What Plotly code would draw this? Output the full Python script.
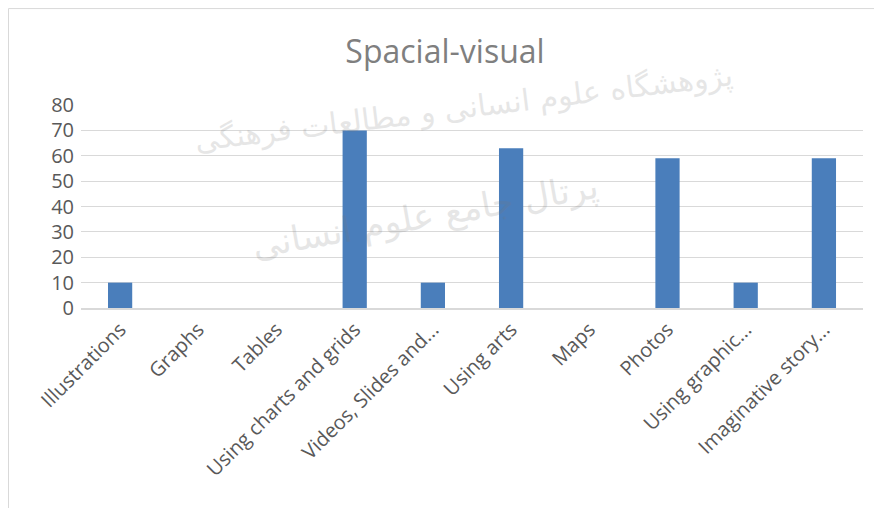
import plotly.graph_objects as go

categories = ["Illustrations", "Graphs", "Tables", "Using charts and grids",
              "Videos, Slides and...", "Using arts", "Maps", "Photos",
              "Using graphic...", "Imaginative story..."]
values = [10, 0, 0, 70, 10, 63, 0, 59, 10, 59]
y_ticks = [0, 10, 20, 30, 40, 50, 60, 70, 80]
watermark_lines = ["پژوهشگاه علوم انسانی و مطالعات فرهنگی", "پرتال جامع علوم انسانی"]

fig = go.Figure()
fig.add_trace(go.Bar(x=categories, y=values, marker_color="#4a7ebb",
                     marker_line_width=0))

font_family = "'Open Sans', 'Noto Sans', sans-serif"
fig.update_layout(
    width=874, height=500,
    margin=dict(l=73, r=19, t=97, b=200),
    paper_bgcolor="white", plot_bgcolor="white",
    bargap=0.69,
    showlegend=False,
    title=dict(text="Spacial-visual", x=0.5, xanchor="center", y=0.912, yanchor="middle",
               font=dict(family=font_family, size=32, color="#7f7f7f")),
    font=dict(family=font_family, color="#595959", size=19),
    xaxis=dict(tickangle=-45, showgrid=False, showline=True, linecolor="#d9d9d9",
               linewidth=2, tickfont=dict(size=20, color="#595959"), ticks="",
               automargin=False),
    yaxis=dict(range=[0, 80], tickvals=y_ticks, showgrid=True, gridcolor="#d9d9d9",
               gridwidth=1, zeroline=False, showline=False, ticks="",
               tickfont=dict(size=20, color="#595959"), ticklabelstandoff=6,
               automargin=False),
)

# faint watermark text
fig.add_annotation(text=watermark_lines[0], xref="paper", yref="paper", x=0.49, y=0.985,
                   xanchor="center", yanchor="middle",
                   showarrow=False, textangle=-7, opacity=0.18,
                   font=dict(family="DejaVu Sans", size=30, color="#777777"))
fig.add_annotation(text=watermark_lines[1], xref="paper", yref="paper", x=0.44, y=0.45,
                   xanchor="center", yanchor="middle",
                   showarrow=False, textangle=-10, opacity=0.18,
                   font=dict(family="DejaVu Sans", size=35, color="#777777"))

# outer frame of the chart object
fig.add_shape(type="line", xref="paper", yref="paper", x0=-0.0927, x1=1.03, y0=1.475, y1=1.475,
              line=dict(color="#d9d9d9", width=1))
fig.add_shape(type="line", xref="paper", yref="paper", x0=-0.0927, x1=-0.0927, y0=1.475, y1=-1.0,
              line=dict(color="#d9d9d9", width=1))

fig.write_html("out.html")
